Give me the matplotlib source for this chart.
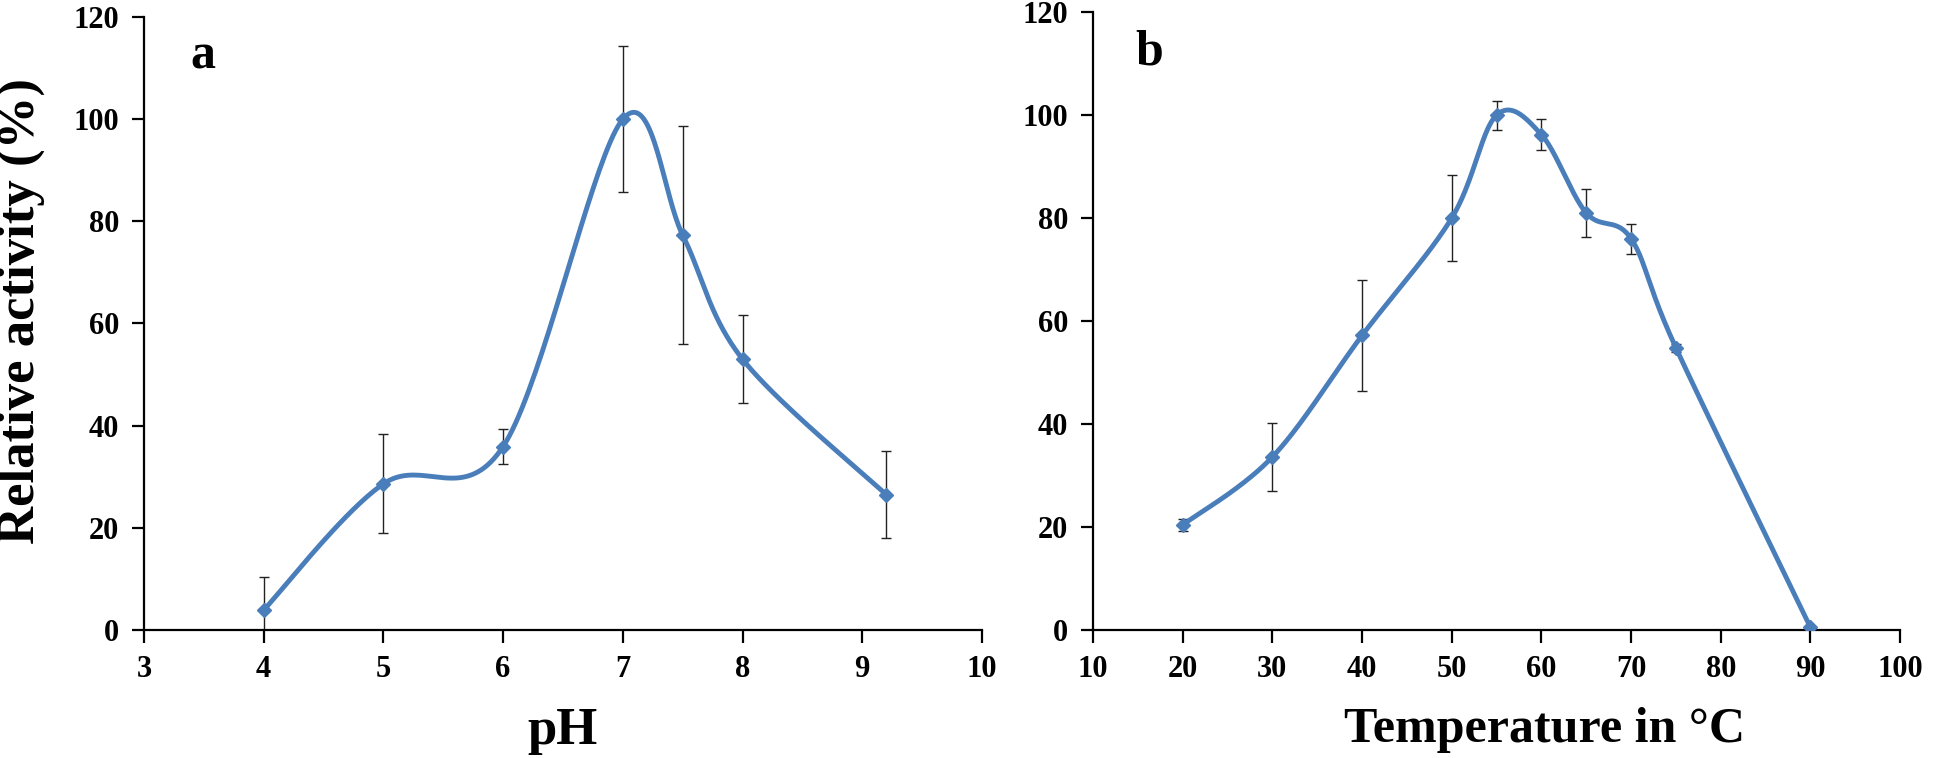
import numpy as np
import matplotlib.pyplot as plt

plt.rcParams['font.family'] = ['Liberation Serif', 'DejaVu Serif']
plt.rcParams['font.weight'] = 'bold'

# panel a: pH profile
ph = [4, 5, 6, 7, 7.5, 8, 9.2]
ph_act = [3.9, 28.6, 35.9, 100.0, 77.3, 53.0, 26.5]
ph_err = [6.4, 9.7, 3.4, 14.3, 21.4, 8.6, 8.6]

# panel b: temperature profile
temp = [20, 30, 40, 50, 55, 60, 65, 70, 75, 90]
temp_act = [20.4, 33.6, 57.2, 80.0, 100.0, 96.2, 81.0, 76.0, 54.8, 0.5]
temp_err = [1.2, 6.6, 10.8, 8.4, 2.8, 3.0, 4.6, 2.9, 0.8, 0.0]

blue = "#4A7EBB"


# Excel-like smoothed line (Catmull-Rom through the points, in screen space)
def smooth(x, y, xr, yr, n=40):
    x = np.asarray(x, float) / xr
    y = np.asarray(y, float) / yr
    px = np.concatenate([[x[0]], x, [x[-1]]])
    py = np.concatenate([[y[0]], y, [y[-1]]])
    xs, ys = [], []
    t = np.linspace(0, 1, n)
    for i in range(1, len(px) - 2):
        p0, p1, p2, p3 = [np.array([px[j], py[j]]) for j in (i - 1, i, i + 1, i + 2)]
        c1 = p1 + (p2 - p0) / 6
        c2 = p2 - (p3 - p1) / 6
        b = ((1 - t) ** 3)[:, None] * p1 + (3 * (1 - t) ** 2 * t)[:, None] * c1 \
            + (3 * (1 - t) * t ** 2)[:, None] * c2 + (t ** 3)[:, None] * p2
        xs.append(b[:, 0])
        ys.append(b[:, 1])
    return np.concatenate(xs) * xr, np.concatenate(ys) * yr


fig = plt.figure(figsize=(19.46, 7.58), dpi=100)
ax1 = fig.add_axes([0.074, 0.169, 0.4306, 0.8086])
ax2 = fig.add_axes([0.5617, 0.169, 0.4147, 0.815])

panels = [
    (ax1, ph, ph_act, ph_err, (3, 10), np.arange(3, 11, 1), "pH", "a"),
    (ax2, temp, temp_act, temp_err, (10, 100), np.arange(10, 101, 10), "Temperature in \u00b0C", "b"),
]

for ax, x, y, e, xlim, xt, xlabel, letter in panels:
    # scale so one unit in each direction is one pixel of the axes box
    bb = ax.get_position()
    wpx, hpx = bb.width * 1946, bb.height * 758
    sx, sy = smooth(x, y, (xlim[1] - xlim[0]) / wpx, 120.0 / hpx)
    ax.plot(sx, sy, color=blue, lw=3.5, zorder=3, solid_capstyle="round")
    ax.errorbar(x, y, yerr=e, fmt="none", ecolor="#222222", elinewidth=1.0,
                capsize=3.5, capthick=1.0, zorder=2)
    ax.plot(x, y, "D", color=blue, ms=7.5, zorder=4)
    ax.set_xlim(*xlim)
    ax.set_ylim(0, 120)
    ax.set_xticks(xt)
    ax.set_yticks(np.arange(0, 121, 20))
    for s in ["top", "right"]:
        ax.spines[s].set_visible(False)
    for s in ["left", "bottom"]:
        ax.spines[s].set_linewidth(1.6)
    ax.tick_params(direction="out", length=9, width=1.6, labelsize=22, pad=9)
    ax.set_xlabel(xlabel, fontsize=38 if letter == "a" else 36, fontweight="bold")
    ax.text(0.07, 0.935, letter, transform=ax.transAxes, fontsize=36,
            fontweight="bold", ha="center", va="center")

ax1.xaxis.set_label_coords(0.5, -0.125)
ax2.xaxis.set_label_coords(0.56, -0.125)
ax1.set_ylabel("Relative activity (%)", fontsize=38, fontweight="bold")
ax1.yaxis.set_label_coords(-0.118, 0.52)

fig.savefig("out.png", dpi=100)
